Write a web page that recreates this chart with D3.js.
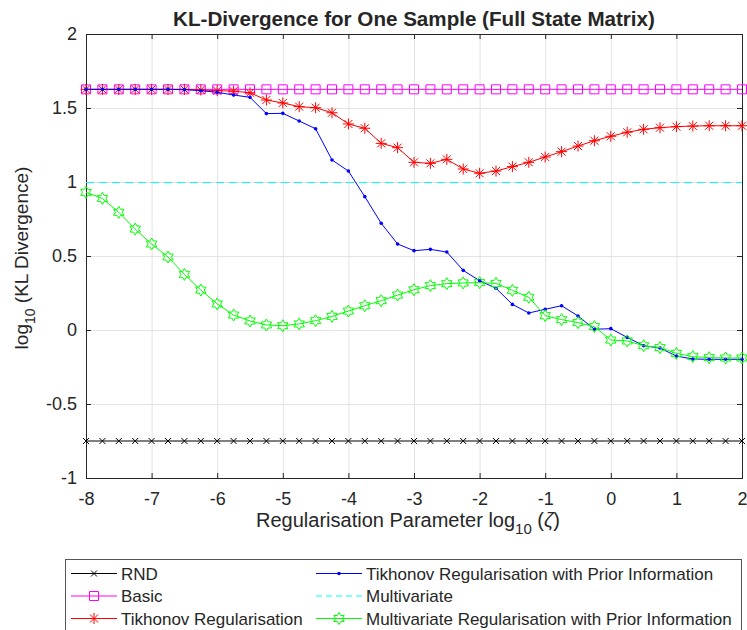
<!DOCTYPE html>
<html>
<head>
<meta charset="utf-8">
<script src="https://cdn.jsdelivr.net/npm/d3@7/dist/d3.min.js"></script>
<style>
  body { margin: 0; background: #fff; }
  text { font-family: "Liberation Sans", Arial, Helvetica, sans-serif; fill: #262626; }
</style>
</head>
<body>
<script>
// regularisation parameter grid, log10(zeta)
var zeta = [-8, -7.75, -7.5, -7.25, -7, -6.75, -6.5, -6.25, -6, -5.75, -5.5, -5.25, -5, -4.75, -4.5, -4.25,
            -4, -3.75, -3.5, -3.25, -3, -2.75, -2.5, -2.25, -2, -1.75, -1.5, -1.25, -1, -0.75, -0.5, -0.25,
            0, 0.25, 0.5, 0.75, 1, 1.25, 1.5, 1.75, 2];

var rnd = [-0.75, -0.75, -0.75, -0.75, -0.75, -0.75, -0.75, -0.75, -0.75, -0.75, -0.75, -0.75, -0.75, -0.75,
           -0.75, -0.75, -0.75, -0.75, -0.75, -0.75, -0.75, -0.75, -0.75, -0.75, -0.75, -0.75, -0.75, -0.75,
           -0.75, -0.75, -0.75, -0.75, -0.75, -0.75, -0.75, -0.75, -0.75, -0.75, -0.75, -0.75, -0.75];

var basic = [1.626, 1.626, 1.626, 1.626, 1.626, 1.626, 1.626, 1.626, 1.626, 1.626, 1.626, 1.626, 1.626, 1.626,
             1.626, 1.626, 1.626, 1.626, 1.626, 1.626, 1.626, 1.626, 1.626, 1.626, 1.626, 1.626, 1.626, 1.626,
             1.626, 1.626, 1.626, 1.626, 1.626, 1.626, 1.626, 1.626, 1.626, 1.626, 1.626, 1.626, 1.626];

var tikhonov = [1.626, 1.626, 1.626, 1.626, 1.626, 1.626, 1.626, 1.622, 1.617, 1.614, 1.603, 1.554, 1.534, 1.509,
                1.502, 1.468, 1.392, 1.363, 1.261, 1.232, 1.133, 1.126, 1.153, 1.088, 1.059, 1.074, 1.104, 1.133,
                1.169, 1.205, 1.243, 1.279, 1.309, 1.336, 1.356, 1.367, 1.374, 1.378, 1.380, 1.380, 1.380];

var tikhonovPrior = [1.626, 1.626, 1.626, 1.626, 1.626, 1.626, 1.624, 1.617, 1.606, 1.588, 1.572, 1.462, 1.464, 1.412,
                     1.360, 1.149, 1.074, 0.901, 0.721, 0.581, 0.536, 0.545, 0.527, 0.403, 0.333, 0.282, 0.173, 0.115,
                     0.140, 0.164, 0.095, 0.005, 0.009, -0.050, -0.106, -0.122, -0.176, -0.196, -0.198, -0.198, -0.198];

var multivariate = [1, 1, 1, 1, 1, 1, 1, 1, 1, 1, 1, 1, 1, 1, 1, 1, 1, 1, 1, 1, 1, 1, 1, 1, 1, 1, 1, 1,
                    1, 1, 1, 1, 1, 1, 1, 1, 1, 1, 1, 1, 1];

var multiPrior = [0.930, 0.889, 0.795, 0.682, 0.581, 0.493, 0.376, 0.270, 0.176, 0.101, 0.061, 0.034, 0.029, 0.041,
                  0.063, 0.092, 0.128, 0.164, 0.198, 0.236, 0.272, 0.300, 0.313, 0.318, 0.320, 0.315, 0.268, 0.221,
                  0.097, 0.070, 0.050, 0.023, -0.068, -0.074, -0.106, -0.119, -0.158, -0.180, -0.187, -0.189, -0.189];

var xTicks = [-8, -7, -6, -5, -4, -3, -2, -1, 0, 1, 2];
var yTicks = [-1, -0.5, 0, 0.5, 1, 1.5, 2];

var names = ["RND", "Basic", "Tikhonov Regularisation", "Tikhonov Regularisation with Prior Information",
             "Multivariate", "Multivariate Regularisation with Prior Information"];

var series = [
  { name: names[0], values: rnd,           color: "#000000", marker: "x" },
  { name: names[1], values: basic,         color: "#ff00ff", marker: "square" },
  { name: names[2], values: tikhonov,      color: "#ff0000", marker: "asterisk" },
  { name: names[3], values: tikhonovPrior, color: "#0000ff", marker: "dot" },
  { name: names[4], values: multivariate,  color: "#00ffff", marker: "none", dash: "8,5" },
  { name: names[5], values: multiPrior,    color: "#00ff00", marker: "hexagram" }
];

var W = 747, H = 630;
var m = { left: 86, right: 742, top: 34, bottom: 478 };

var svg = d3.select("body").append("svg")
  .attr("width", W).attr("height", H);

var x = d3.scaleLinear().domain([-8, 2]).range([m.left, m.right]);
var y = d3.scaleLinear().domain([-1, 2]).range([m.bottom, m.top]);

// grid
svg.append("g").selectAll("line.gx").data(xTicks).enter().append("line")
  .attr("x1", d => x(d) + 0.5).attr("x2", d => x(d) + 0.5)
  .attr("y1", m.top).attr("y2", m.bottom)
  .attr("stroke", "#e3e3e3").attr("stroke-width", 1);
svg.append("g").selectAll("line.gy").data(yTicks).enter().append("line")
  .attr("x1", m.left).attr("x2", m.right)
  .attr("y1", d => y(d) + 0.5).attr("y2", d => y(d) + 0.5)
  .attr("stroke", "#e3e3e3").attr("stroke-width", 1);

// axes (ticks inward, box on)
var fmt = d => String(d);
svg.append("g").attr("transform", "translate(0," + m.bottom + ")")
  .call(d3.axisBottom(x).tickValues(xTicks).tickSize(-5).tickPadding(14).tickFormat(fmt));
svg.append("g").attr("transform", "translate(0," + m.top + ")")
  .call(d3.axisTop(x).tickValues(xTicks).tickSize(-5).tickFormat(""));
svg.append("g").attr("transform", "translate(" + m.left + ",0)")
  .call(d3.axisLeft(y).tickValues(yTicks).tickSize(-5).tickPadding(9).tickFormat(fmt));
svg.append("g").attr("transform", "translate(" + m.right + ",0)")
  .call(d3.axisRight(y).tickValues(yTicks).tickSize(-5).tickFormat(""));

svg.selectAll(".domain").attr("stroke", "#262626");
svg.selectAll(".tick line").attr("stroke", "#262626");
svg.selectAll(".tick text").style("font-size", "18px").attr("fill", "#262626")
  .style("font-family", "'Liberation Sans', Arial, sans-serif");

// marker shapes
function markerPath(type) {
  var p = d3.path();
  if (type === "x") {
    var r = 3;
    p.moveTo(-r, -r); p.lineTo(r, r); p.moveTo(-r, r); p.lineTo(r, -r);
  } else if (type === "asterisk") {
    var a = 5.5, b = 4;
    p.moveTo(-a, 0); p.lineTo(a, 0); p.moveTo(0, -a); p.lineTo(0, a);
    p.moveTo(-b, -b); p.lineTo(b, b); p.moveTo(-b, b); p.lineTo(b, -b);
  } else if (type === "square") {
    var s = 4.5;
    p.rect(-s, -s, 2 * s, 2 * s);
  } else if (type === "hexagram") {
    var R = 6, ri = R / Math.sqrt(3);
    for (var k = 0; k < 12; k++) {
      var ang = -Math.PI / 2 + k * Math.PI / 6;
      var rr = k % 2 === 0 ? R : ri;
      if (k === 0) p.moveTo(rr * Math.cos(ang), rr * Math.sin(ang));
      else p.lineTo(rr * Math.cos(ang), rr * Math.sin(ang));
    }
    p.closePath();
  }
  return p.toString();
}

function drawMarker(g, s, cx, cy) {
  if (s.marker === "none") return;
  if (s.marker === "dot") {
    g.append("circle").attr("cx", cx).attr("cy", cy).attr("r", 1.8).attr("fill", s.color);
  } else {
    g.append("path").attr("d", markerPath(s.marker))
      .attr("transform", "translate(" + cx + "," + cy + ")")
      .attr("fill", "none").attr("stroke", s.color).attr("stroke-width", 1);
  }
}

// series
var line = d3.line().x(d => x(d[0])).y(d => y(d[1]));
var plot = svg.append("g");
series.forEach(function (s) {
  var pts = zeta.map((z, i) => [z, s.values[i]]);
  var g = plot.append("g");
  g.append("path").datum(pts).attr("d", line)
    .attr("fill", "none").attr("stroke", s.color).attr("stroke-width", 1)
    .attr("stroke-dasharray", s.dash || null)
    .attr("shape-rendering", s.dash ? "crispEdges" : null);
  pts.forEach(function (d) { drawMarker(g, s, x(d[0]), y(d[1])); });
});

// title
svg.append("text").attr("transform", "translate(" + (m.left + m.right) / 2 + ",26) scale(1.03,1)")
  .attr("text-anchor", "middle").style("font-size", "20px").style("font-weight", "bold")
  .attr("fill", "#000").text("KL-Divergence for One Sample (Full State Matrix)");

// x label
var xl = svg.append("text").attr("x", 408).attr("y", 527)
  .attr("text-anchor", "middle").style("font-size", "20px");
xl.append("tspan").text("Regularisation Parameter log");
xl.append("tspan").attr("dy", 7).style("font-size", "15px").text("10");
xl.append("tspan").attr("dy", -7).text(" (");
xl.append("tspan").style("font-style", "italic").text("ζ");
xl.append("tspan").text(")");

// y label
var yl = svg.append("text").attr("transform", "translate(28,258) rotate(-90)")
  .attr("text-anchor", "middle").style("font-size", "19px");
yl.append("tspan").text("log");
yl.append("tspan").attr("dy", 7).style("font-size", "14px").text("10");
yl.append("tspan").attr("dy", -7).text(" (KL Divergence)");

// legend
var leg = svg.append("g");
leg.append("rect").attr("x", 65.5).attr("y", 559.5).attr("width", 676).attr("height", 80)
  .attr("fill", "#fff").attr("stroke", "#555").attr("stroke-width", 1);
var cols = [{ x0: 71, x1: 117, tx: 121 }, { x0: 316, x1: 362, tx: 366 }];
series.forEach(function (s, i) {
  var c = cols[Math.floor(i / 3)];
  var cy = 573.5 + (i % 3) * 22.5;
  var g = leg.append("g");
  g.append("line").attr("x1", c.x0).attr("x2", c.x1).attr("y1", cy).attr("y2", cy)
    .attr("stroke", s.color).attr("stroke-width", 1).attr("stroke-dasharray", s.dash ? "6,4" : null);
  drawMarker(g, s, (c.x0 + c.x1) / 2, cy);
  g.append("text").attr("x", c.tx).attr("y", cy + 6).style("font-size", "17px")
    .attr("fill", "#000").text(s.name);
});
</script>
</body>
</html>
